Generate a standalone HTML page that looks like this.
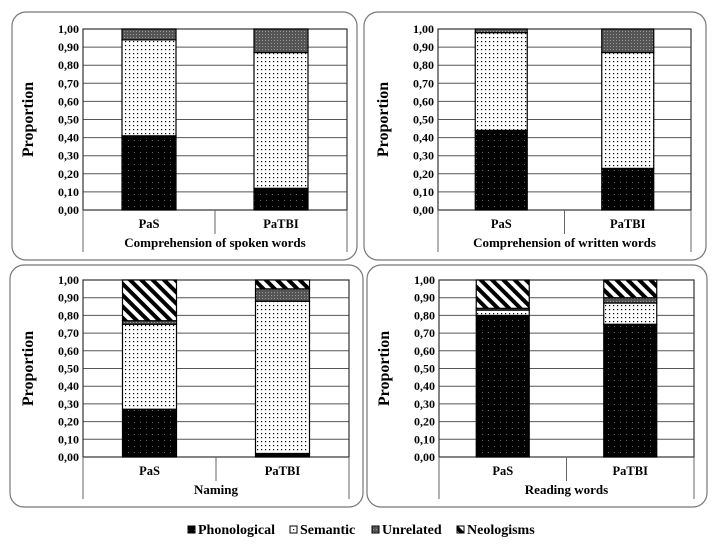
<!DOCTYPE html>
<html><head><meta charset="utf-8">
<style>
html,body{margin:0;padding:0;background:#fff;}
svg{display:block;}
svg text{font-family:"Liberation Serif","Times New Roman",serif;}
</style></head>
<body>
<svg id="chart" width="716" height="553" viewBox="0 0 716 553" xmlns="http://www.w3.org/2000/svg" font-family="Liberation Serif, serif">
<defs>
<pattern id="pPhon" width="6" height="6" patternUnits="userSpaceOnUse"><rect width="6" height="6" fill="#000"/><rect x="2" y="2" width="1" height="1" fill="#666"/></pattern>
<pattern id="pSem" width="4" height="4" patternUnits="userSpaceOnUse"><rect width="4" height="4" fill="#fff"/><rect x="1" y="1" width="1.2" height="1.2" fill="#000"/></pattern>
<pattern id="pUnr" width="3" height="3" patternUnits="userSpaceOnUse"><rect width="3" height="3" fill="#555"/><rect x="1" y="1" width="1" height="1" fill="#999"/></pattern>
<pattern id="pNeo" width="8" height="8" patternUnits="userSpaceOnUse" patternTransform="rotate(45)"><rect width="8" height="8" fill="#fff"/><rect width="8" height="4" fill="#000"/></pattern>
</defs>
<g id="panels"></g>
<g id="legend"></g>
</svg>
<script>
const panelTitles = ["Comprehension of spoken words","Comprehension of written words","Naming","Reading words"];
const groups = ["PaS","PaTBI"];
const seriesNames = ["Phonological","Semantic","Unrelated","Neologisms"];
const yTicks = ["0,00","0,10","0,20","0,30","0,40","0,50","0,60","0,70","0,80","0,90","1,00"];
// values per panel: [PaS, PaTBI]
const phonological = [[0.41,0.12],[0.44,0.23],[0.27,0.02],[0.80,0.75]];
const semantic     = [[0.53,0.75],[0.54,0.64],[0.48,0.86],[0.03,0.12]];
const unrelated    = [[0.06,0.13],[0.02,0.13],[0.02,0.07],[0.01,0.03]];
const neologisms   = [[0.00,0.00],[0.00,0.00],[0.23,0.05],[0.16,0.10]];
const allSeries = [phonological, semantic, unrelated, neologisms];
const fills = ["url(#pPhon)","url(#pSem)","url(#pUnr)","url(#pNeo)"];

const NS="http://www.w3.org/2000/svg";
const FF="Liberation Serif, serif";
function mk(tag, attrs, parent){const e=document.createElementNS(NS,tag);for(const k in attrs)e.setAttribute(k,attrs[k]);if(tag==='text')e.setAttribute('font-family',FF);parent.appendChild(e);return e;}

const layout = [
 {bx:12,by:12,bw:345,bh:248,px:83,pr:347,top:29,bot:210,bw2:54},
 {bx:364,by:12,bw:342,bh:248,px:438,pr:691,top:29,bot:210,bw2:52},
 {bx:10,by:265,bw:353,bh:242,px:83,pr:349,top:280,bot:457,bw2:54},
 {bx:367,by:265,bw:340,bh:242,px:439,pr:694,top:280,bot:457,bw2:53}
];
const root=document.getElementById('panels');
panelTitles.forEach((title,pi)=>{
  const L=layout[pi];
  const g=mk('g',{},root);
  
  
  const box=mk('rect',{x:L.bx,y:L.by,width:L.bw,height:L.bh,rx:14,fill:'#fff',stroke:'#777','stroke-width':1.2},g);
  
  
  const yS=v=>L.bot-(L.bot-L.top)*v;
  const catW=(L.pr-L.px)/groups.length;
  const xC=i=>L.px+catW*(i+0.5);
  yTicks.forEach((t,i)=>{
    const v=parseFloat(t.replace(',','.'));
    const y=yS(v);
    const ln=mk('line',{x1:L.px,x2:L.pr,y1:y,y2:y,stroke:'#555','stroke-width':1},g);
    
    
    const tx=mk('text',{x:L.px-4,y:y+4,'text-anchor':'end','font-size':12,'font-weight':'bold'},g);
    tx.textContent=t;
    
    
  });
  const pb=mk('rect',{x:L.px,y:L.top,width:L.pr-L.px,height:L.bot-L.top,fill:'none',stroke:'#333','stroke-width':1.2},g);
  
  
  const capB=L.by+L.bh-8;
  [L.px, L.px+catW, L.pr].forEach((x,i)=>{
    const y2 = (i===1)? L.bot+24 : capB;
    const l=mk('line',{x1:x,x2:x,y1:L.bot,y2:y2,stroke:'#666','stroke-width':1},g);
    
    
  });
  groups.forEach((grp,gi)=>{
    let cum=0;
    allSeries.forEach((ser,si)=>{
      const v=ser[pi][gi];
      if(v<=0) return;
      const y1=yS(cum+v), y0=yS(cum);
      const r=mk('rect',{x:xC(gi)-L.bw2/2,y:y1,width:L.bw2,height:y0-y1,fill:fills[si],stroke:'#000','stroke-width':1.2},g);
      
      
      cum+=v;
    });
    const lb=mk('text',{x:xC(gi),y:L.bot+18,'text-anchor':'middle','font-size':12.5,'font-weight':'bold'},g);
    lb.textContent=grp;
    
    
  });
  const st=mk('text',{x:(L.px+L.pr)/2,y:capB-5,'text-anchor':'middle','font-size':13,'font-weight':'bold'},g);
  st.textContent=title;
  
  
  const yt=mk('text',{x:0,y:0,'text-anchor':'middle','font-size':16,'font-weight':'bold',transform:`translate(${L.px-50},${(L.top+L.bot)/2}) rotate(-90)`},g);
  yt.textContent='Proportion';
  
  
});
const lg=document.getElementById('legend');
const legX=[188,290,372,457];
seriesNames.forEach((n,i)=>{
  const sq=mk('rect',{x:legX[i],y:526,width:7,height:7,fill:fills[i],stroke:'#000','stroke-width':1},lg);
  
  
  const t=mk('text',{x:legX[i]+10,y:534,'font-size':14,'font-weight':'bold'},lg);
  t.textContent=n;
  
  
});
</script>
</body></html>
